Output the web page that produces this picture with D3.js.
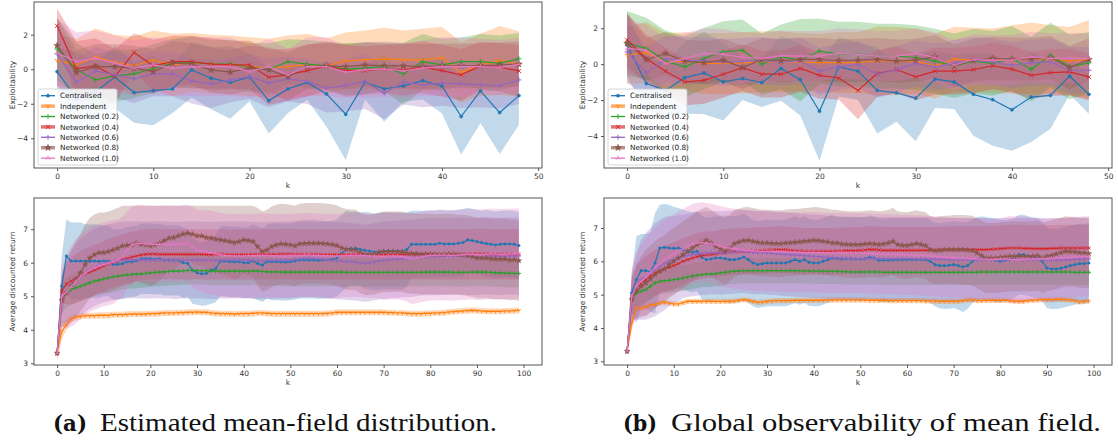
<!DOCTYPE html>
<html>
<head>
<meta charset="utf-8">
<script src="https://cdn.jsdelivr.net/npm/d3@7"></script>
<style>
  body { margin: 0; background: #fff; }
  svg { display: block; }
</style>
</head>
<body>
<svg id="chart" width="1118" height="443"></svg>
<script>
// series names / colours / markers
const seriesNames = ["Centralised", "Independent", "Networked (0.2)", "Networked (0.4)", "Networked (0.6)", "Networked (0.8)", "Networked (1.0)"];
const seriesColors = ["#1f77b4", "#ff7f0e", "#2ca02c", "#d62728", "#9467bd", "#8c564b", "#e377c2"];
const seriesMarkers = ["point", "tri_down", "plus", "x", "plus", "star", "tri_up"];
const legendThick = [false, true, false, true, false, true, false];

const kTop = d3.range(0, 50, 2);
const kBottom = d3.range(0, 100);

const topTicksX = [0, 10, 20, 30, 40, 50];
const topTicksY = [-4, -2, 0, 2];
const bottomTicksX = [0, 10, 20, 30, 40, 50, 60, 70, 80, 90, 100];
const bottomTicksY = [3, 4, 5, 6, 7];

// ---- (a) exploitability, mean & std per series (k = 0,2,...,48)
const expA_cent = [-0.14, -1.7, -1.3, -0.45, -1.35, -1.24, -1.14, -0.04, -0.52, -0.77, -0.46, -1.82, -1.14, -0.77, -1.43, -2.61, -0.75, -1.14, -0.97, -0.66, -0.97, -2.74, -1.26, -2.51, -1.53];
const expA_ind  = [0.5, 0.25, 0.7, 0.4, 0.2, 0.54, 0.25, 0.39, 0.3, 0.25, 0.15, 0.06, 0.15, 0.25, 0.19, 0.48, 0.54, 0.6, 0.54, 0.54, 0.66, -0.19, 0.25, 0.5, 0.3];
const expA_n02  = [1.16, 0.0, -0.62, -0.39, -0.27, 0.04, 0.35, 0.39, 0.3, 0.3, 0.1, 0.0, 0.44, 0.29, 0.19, 0.0, 0.06, 0.15, -0.27, 0.44, 0.25, 0.44, 0.44, 0.35, 0.6];
const expA_n04  = [2.51, 0.02, 0.19, -0.43, 0.97, 0.2, 0.44, 0.44, 0.29, 0.25, 0.25, -0.46, -0.33, -0.08, 0.19, -0.08, -0.08, 0.02, -0.04, 0.12, -0.08, -0.33, 0.19, 0.12, -0.1];
const expA_n06  = [0.9, -0.77, -0.1, -0.33, -0.56, -0.27, -0.27, -0.68, -0.85, -0.62, -0.43, -0.81, -0.56, -0.71, -1.1, -0.95, -0.71, -1.39, -0.75, -0.91, -0.81, -0.85, -0.91, -0.97, -0.62];
const expA_n08  = [1.37, -0.19, 0.15, 0.15, 0.06, -0.14, 0.35, 0.3, -0.04, -0.17, 0.06, -0.04, -0.43, 0.15, 0.19, 0.15, 0.25, 0.19, 0.19, 0.15, 0.19, 0.19, 0.19, 0.25, 0.29];
const expA_n10  = [0.93, 0.44, 0.64, 0.35, 0.06, 0.25, 0.06, 0.15, 0.15, 0.15, -0.14, 0.15, -0.33, 0.15, 0.15, -0.17, -0.04, 0.02, -0.1, 0.06, 0.15, 0.15, 0.15, 0.1, 0.29];

const expA_cent_sd = [1.4, 2.7, 1.7, 1.8, 1.75, 2.0, 1.4, 1.6, 1.8, 2.1, 1.4, 1.9, 1.4, 1.0, 1.9, 2.65, 1.0, 1.9, 0.9, 1.1, 1.6, 2.2, 1.85, 2.4, 1.7];
const expA_ind_sd  = [1.5, 1.5, 1.65, 1.6, 1.7, 1.7, 1.8, 1.7, 1.7, 1.7, 1.7, 1.7, 1.8, 1.8, 1.6, 1.65, 1.7, 1.8, 1.7, 1.8, 1.8, 1.75, 1.8, 2.0, 1.9];
const expA_n02_sd  = [1.8, 1.5, 1.5, 1.5, 1.4, 1.4, 1.4, 1.5, 1.4, 1.4, 1.4, 1.5, 1.3, 1.4, 1.4, 1.5, 1.5, 1.4, 1.8, 1.6, 1.5, 1.4, 1.6, 1.6, 1.5];
const expA_n04_sd  = [1.0, 1.6, 1.6, 1.6, 1.1, 1.5, 1.5, 1.5, 1.5, 1.4, 1.4, 1.6, 1.5, 1.5, 1.4, 1.5, 1.4, 1.4, 1.5, 1.5, 1.5, 1.5, 1.4, 1.4, 1.5];
const expA_n06_sd  = [1.8, 1.4, 1.4, 1.3, 1.4, 1.3, 1.3, 1.3, 1.4, 1.3, 1.3, 1.4, 1.3, 1.3, 1.4, 1.5, 1.6, 1.5, 1.3, 1.3, 1.3, 1.4, 1.3, 1.3, 1.4];
const expA_n08_sd  = [1.6, 1.3, 1.3, 1.3, 1.3, 1.3, 1.3, 1.2, 1.3, 1.3, 1.3, 1.3, 1.4, 1.3, 1.3, 1.3, 1.3, 1.3, 1.3, 1.3, 1.3, 1.3, 1.3, 1.3, 1.3];
const expA_n10_sd  = [2.0, 1.7, 1.6, 1.6, 1.6, 1.6, 1.6, 1.7, 1.7, 1.7, 1.5, 1.6, 1.5, 1.7, 1.7, 1.5, 1.6, 1.6, 1.6, 1.6, 1.7, 1.7, 1.6, 1.6, 1.5];

// ---- (b) exploitability
const expB_cent = [1.07, -1.08, -1.46, -0.75, -0.49, -0.99, -0.8, -1.03, -0.24, -0.86, -2.62, -0.15, -0.39, -1.46, -1.6, -1.89, -0.84, -0.99, -1.68, -1.98, -2.54, -1.83, -1.74, -0.67, -1.68];
const expB_ind  = [0.5, 0.65, 0.13, 0.17, 0.04, 0.04, 0.07, 0.13, 0.13, 0.13, 0.09, 0.09, 0.09, 0.19, 0.17, 0.17, -0.11, 0.28, 0.22, 0.19, 0.26, 0.32, 0.26, 0.17, 0.26];
const expB_n02  = [1.16, 0.88, 0.17, -0.15, 0.32, 0.69, 0.78, 0.0, 0.41, 0.22, 0.73, 0.56, 0.56, 0.45, 0.45, 0.37, 0.17, -0.09, 0.17, 0.04, 0.32, -0.28, 0.5, -0.15, 0.07];
const expB_n04  = [1.35, 0.32, -0.39, -0.99, -0.9, -0.56, -0.19, -0.56, -0.56, -0.24, -0.62, -0.77, -1.46, -0.52, -0.3, -0.71, -0.39, -0.39, -0.3, -0.09, -0.28, -0.62, -0.47, -0.43, -0.71];
const expB_n06  = [0.69, -0.49, 0.3, 0.2, 0.2, 0.1, 0.15, 0.2, 0.1, 0.2, -0.4, -0.15, -0.02, -0.56, -0.3, 0.04, -0.15, 0.04, 0.22, 0.13, -0.06, 0.07, 0.13, -0.34, -0.34];
const expB_n08  = [1.16, 0.26, 0.6, 0.17, 0.07, 0.22, -0.19, 0.26, 0.19, 0.26, 0.26, 0.19, 0.22, 0.26, 0.17, 0.22, 0.41, -0.09, 0.22, 0.32, 0.28, 0.28, 0.37, -0.19, 0.26];
const expB_n10  = [0.88, 0.79, 0.04, 0.32, 0.6, 0.56, 0.37, 0.32, 0.47, 0.45, 0.45, 0.6, 0.54, 0.45, 0.45, 0.6, 0.37, -0.06, 0.26, 0.22, 0.22, 0.41, 0.32, 0.32, 0.32];

const expB_cent_sd = [1.8, 1.5, 1.5, 2.0, 2.3, 2.15, 1.2, 1.35, 1.8, 2.0, 2.76, 1.65, 1.6, 2.4, 1.6, 2.4, 1.6, 1.5, 2.3, 2.56, 2.28, 2.5, 1.86, 1.0, 1.1];
const expB_ind_sd  = [1.6, 1.7, 1.6, 1.6, 1.7, 1.7, 1.7, 1.7, 1.7, 1.6, 1.6, 1.7, 1.7, 1.9, 1.9, 1.8, 1.8, 1.8, 1.8, 1.8, 1.9, 2.0, 1.9, 1.9, 2.2];
const expB_n02_sd  = [1.8, 1.7, 1.7, 1.7, 1.7, 1.7, 1.7, 1.7, 1.8, 2.3, 1.8, 1.8, 1.8, 1.8, 1.8, 1.8, 1.8, 1.8, 1.8, 1.8, 1.8, 1.8, 1.8, 1.8, 1.7];
const expB_n04_sd  = [1.5, 1.3, 1.3, 1.3, 1.3, 1.3, 1.3, 1.3, 1.3, 1.3, 1.3, 1.2, 1.6, 1.3, 1.3, 1.3, 1.3, 1.3, 1.3, 1.3, 1.3, 1.3, 1.3, 1.3, 1.3];
const expB_n06_sd  = [1.7, 1.4, 1.3, 1.3, 1.3, 1.3, 1.3, 1.3, 1.3, 1.3, 1.3, 1.3, 1.3, 1.3, 1.3, 1.3, 1.3, 1.3, 1.3, 1.3, 1.3, 1.3, 1.3, 1.3, 1.3];
const expB_n08_sd  = [1.6, 1.2, 1.2, 1.2, 1.2, 1.2, 1.2, 1.2, 1.2, 1.2, 1.2, 1.2, 1.2, 1.2, 1.2, 1.2, 1.2, 1.2, 1.2, 1.2, 1.2, 1.2, 1.2, 1.2, 1.2];
const expB_n10_sd  = [1.6, 1.4, 1.4, 1.4, 1.4, 1.4, 1.4, 1.4, 1.4, 1.4, 1.4, 1.4, 1.4, 1.4, 1.4, 1.4, 1.4, 1.4, 1.4, 1.4, 1.4, 1.4, 1.4, 1.4, 1.4];

// ---- (a) average discounted return (k = 0..99)
const retA_cent = [3.3, 5.3, 6.2, 6.05, 6.05, 6.05, 6.05, 6.04, 6.05, 6.04,
  6.05, 6.05, 5.95, 5.95, 5.97, 6.03, 6.03, 6.05, 6.12, 6.12,
  6.12, 6.1, 6.12, 6.07, 6.07, 6.07, 6.07, 6.0, 5.98, 5.78,
  5.7, 5.67, 5.68, 5.78, 5.82, 6.05, 6.05, 6.03, 6.03, 6.03,
  6.0, 6.0, 6.05, 5.98, 5.93, 6.03, 6.03, 6.03, 6.02, 6.02,
  6.03, 6.05, 6.08, 6.08, 6.08, 6.08, 6.07, 6.08, 6.08, 6.1,
  6.15, 6.28, 6.4, 6.42, 6.43, 6.4, 6.37, 6.35, 6.32, 6.33,
  6.35, 6.35, 6.35, 6.34, 6.33, 6.4, 6.55, 6.55, 6.55, 6.55,
  6.55, 6.55, 6.58, 6.56, 6.56, 6.56, 6.58, 6.6, 6.68, 6.66,
  6.63, 6.6, 6.57, 6.55, 6.53, 6.55, 6.56, 6.56, 6.55, 6.51];
const retA_ind = [3.3, 3.95, 4.15, 4.33, 4.38, 4.4, 4.42, 4.42, 4.42, 4.43,
  4.43, 4.43, 4.45, 4.45, 4.45, 4.46, 4.47, 4.47, 4.47, 4.47,
  4.48, 4.48, 4.49, 4.5, 4.5, 4.5, 4.51, 4.51, 4.52, 4.52,
  4.53, 4.52, 4.52, 4.5, 4.49, 4.48, 4.48, 4.48, 4.47, 4.48,
  4.48, 4.48, 4.49, 4.5, 4.5, 4.49, 4.48, 4.48, 4.48, 4.48,
  4.48, 4.48, 4.48, 4.48, 4.48, 4.48, 4.48, 4.48, 4.49, 4.5,
  4.52, 4.52, 4.52, 4.52, 4.52, 4.52, 4.52, 4.52, 4.52, 4.52,
  4.52, 4.51, 4.51, 4.5, 4.5, 4.49, 4.48, 4.48, 4.48, 4.49,
  4.49, 4.5, 4.5, 4.51, 4.53, 4.54, 4.55, 4.56, 4.57, 4.58,
  4.57, 4.56, 4.55, 4.55, 4.55, 4.55, 4.56, 4.56, 4.57, 4.58];
const retA_n02 = [3.3, 4.9, 5.1, 5.2, 5.25, 5.3, 5.35, 5.4, 5.45, 5.48,
  5.52, 5.55, 5.58, 5.6, 5.62, 5.64, 5.65, 5.66, 5.67, 5.68,
  5.7, 5.71, 5.72, 5.73, 5.74, 5.75, 5.75, 5.76, 5.77, 5.77,
  5.77, 5.76, 5.76, 5.75, 5.75, 5.75, 5.75, 5.75, 5.75, 5.75,
  5.75, 5.75, 5.76, 5.75, 5.74, 5.73, 5.73, 5.73, 5.72, 5.72,
  5.72, 5.72, 5.72, 5.72, 5.72, 5.72, 5.72, 5.72, 5.72, 5.72,
  5.72, 5.72, 5.71, 5.71, 5.71, 5.71, 5.71, 5.71, 5.71, 5.71,
  5.71, 5.71, 5.71, 5.71, 5.71, 5.71, 5.71, 5.71, 5.71, 5.72,
  5.72, 5.72, 5.72, 5.72, 5.72, 5.71, 5.71, 5.71, 5.71, 5.72,
  5.72, 5.72, 5.72, 5.71, 5.7, 5.7, 5.69, 5.68, 5.68, 5.68];
const retA_n04 = [3.3, 5.17, 5.37, 5.45, 5.53, 5.6, 5.66, 5.72, 5.78, 5.84,
  5.9, 5.96, 6.01, 6.05, 6.1, 6.13, 6.17, 6.2, 6.23, 6.25,
  6.26, 6.26, 6.25, 6.25, 6.25, 6.25, 6.25, 6.25, 6.25, 6.25,
  6.25, 6.25, 6.24, 6.24, 6.25, 6.25, 6.25, 6.24, 6.24, 6.24,
  6.24, 6.24, 6.25, 6.25, 6.25, 6.25, 6.25, 6.25, 6.26, 6.26,
  6.26, 6.25, 6.25, 6.25, 6.25, 6.25, 6.25, 6.24, 6.24, 6.24,
  6.24, 6.24, 6.24, 6.24, 6.25, 6.25, 6.25, 6.25, 6.24, 6.24,
  6.24, 6.24, 6.24, 6.25, 6.25, 6.25, 6.25, 6.25, 6.25, 6.25,
  6.25, 6.25, 6.24, 6.24, 6.24, 6.25, 6.25, 6.25, 6.25, 6.26,
  6.26, 6.26, 6.26, 6.25, 6.25, 6.25, 6.25, 6.25, 6.25, 6.25];
const retA_n06 = [3.3, 4.88, 5.12, 5.3, 5.45, 5.57, 5.68, 5.78, 5.85, 5.92,
  5.97, 6.0, 6.03, 6.06, 6.08, 6.08, 6.09, 6.09, 6.08, 6.08,
  6.08, 6.09, 6.09, 6.08, 6.08, 6.07, 6.07, 6.08, 6.08, 6.08,
  6.08, 6.08, 6.07, 6.07, 6.07, 6.08, 6.08, 6.08, 6.09, 6.09,
  6.08, 6.08, 6.07, 6.07, 6.06, 6.07, 6.07, 6.08, 6.08, 6.08,
  6.08, 6.1, 6.12, 6.13, 6.13, 6.13, 6.12, 6.1, 6.08, 6.07,
  6.06, 6.05, 6.04, 6.03, 6.02, 6.0, 5.98, 6.0, 6.03, 6.05,
  6.07, 6.08, 6.1, 6.1, 6.12, 6.12, 6.13, 6.15, 6.17, 6.18,
  6.18, 6.18, 6.19, 6.19, 6.19, 6.2, 6.2, 6.2, 6.19, 6.19,
  6.19, 6.2, 6.2, 6.2, 6.19, 6.19, 6.2, 6.2, 6.2, 6.2];
const retA_n08 = [3.3, 4.88, 5.1, 5.3, 5.5, 5.7, 5.94, 6.14, 6.24, 6.3,
  6.3, 6.33, 6.38, 6.43, 6.5, 6.52, 6.53, 6.58, 6.55, 6.53,
  6.5, 6.53, 6.58, 6.66, 6.73, 6.75, 6.8, 6.85, 6.88, 6.85,
  6.8, 6.8, 6.75, 6.73, 6.7, 6.68, 6.66, 6.63, 6.6, 6.63,
  6.68, 6.66, 6.63, 6.48, 6.33, 6.38, 6.48, 6.53, 6.56, 6.55,
  6.53, 6.5, 6.56, 6.57, 6.58, 6.58, 6.58, 6.57, 6.56, 6.54,
  6.51, 6.44, 6.4, 6.39, 6.38, 6.3, 6.24, 6.24, 6.25, 6.3,
  6.33, 6.33, 6.33, 6.33, 6.33, 6.29, 6.28, 6.27, 6.25, 6.26,
  6.26, 6.25, 6.25, 6.25, 6.26, 6.25, 6.24, 6.23, 6.21, 6.18,
  6.14, 6.14, 6.14, 6.12, 6.11, 6.11, 6.11, 6.08, 6.09, 6.06];
const retA_n10 = [3.3, 5.0, 5.12, 5.28, 5.44, 5.58, 5.68, 5.79, 5.85, 5.9,
  5.95, 5.98, 6.02, 6.08, 6.18, 6.38, 6.53, 6.57, 6.58, 6.56,
  6.55, 6.55, 6.55, 6.55, 6.55, 6.55, 6.55, 6.57, 6.58, 6.48,
  6.38, 6.35, 6.32, 6.3, 6.27, 6.24, 6.22, 6.21, 6.2, 6.2,
  6.2, 6.21, 6.21, 6.22, 6.22, 6.22, 6.21, 6.21, 6.2, 6.2,
  6.21, 6.22, 6.22, 6.23, 6.23, 6.22, 6.22, 6.21, 6.21, 6.2,
  6.2, 6.21, 6.22, 6.22, 6.23, 6.22, 6.21, 6.2, 6.2, 6.19,
  6.19, 6.2, 6.2, 6.2, 6.18, 6.14, 6.12, 6.14, 6.17, 6.2,
  6.22, 6.22, 6.23, 6.23, 6.22, 6.22, 6.23, 6.24, 6.25, 6.25,
  6.24, 6.24, 6.25, 6.26, 6.26, 6.25, 6.25, 6.26, 6.27, 6.27];

const retA_cent_sd = [0.05, 0.9, 1.1, 1.15, 1.15, 1.15, 1.1, 1.1, 1.1, 1.1,
  1.05, 1.05, 1.05, 1.05, 1.05, 1.05, 1.05, 1.05, 1.05, 1.05,
  1.05, 1.05, 1.05, 1.05, 1.05, 1.05, 1.05, 1.05, 1.0, 1.0,
  0.95, 0.95, 0.95, 1.0, 1.0, 1.05, 1.05, 1.05, 1.05, 1.05,
  1.05, 1.05, 1.1, 1.1, 1.1, 1.1, 1.15, 1.15, 1.15, 1.15,
  1.15, 1.15, 1.15, 1.15, 1.15, 1.15, 1.15, 1.15, 1.15, 1.15,
  1.15, 1.15, 1.15, 1.1, 1.1, 1.1, 1.15, 1.15, 1.15, 1.15,
  1.15, 1.15, 1.15, 1.15, 1.15, 1.1, 1.0, 1.0, 1.0, 1.0,
  1.0, 1.0, 1.0, 1.0, 1.0, 1.0, 1.0, 1.0, 0.95, 0.95,
  0.95, 0.95, 1.0, 1.0, 1.0, 1.0, 1.0, 1.0, 1.0, 1.0];
const retA_ind_sd = [0.25, 0.25, 0.15, 0.1, 0.1, 0.09, 0.09, 0.09, 0.09, 0.09,
  0.09, 0.09, 0.09, 0.09, 0.09, 0.09, 0.09, 0.09, 0.09, 0.09,
  0.09, 0.09, 0.09, 0.09, 0.09, 0.09, 0.09, 0.09, 0.09, 0.09,
  0.09, 0.09, 0.09, 0.09, 0.09, 0.09, 0.09, 0.09, 0.09, 0.09,
  0.09, 0.09, 0.09, 0.09, 0.09, 0.09, 0.09, 0.09, 0.09, 0.09,
  0.09, 0.09, 0.09, 0.09, 0.09, 0.09, 0.09, 0.09, 0.09, 0.09,
  0.09, 0.09, 0.09, 0.09, 0.09, 0.09, 0.09, 0.09, 0.09, 0.09,
  0.09, 0.09, 0.09, 0.09, 0.09, 0.09, 0.09, 0.09, 0.09, 0.09,
  0.09, 0.09, 0.09, 0.09, 0.09, 0.09, 0.09, 0.09, 0.09, 0.09,
  0.09, 0.09, 0.09, 0.09, 0.09, 0.09, 0.09, 0.09, 0.09, 0.09];
const retA_n02_sd = [0.05, 0.4, 0.45, 0.45, 0.45, 0.45, 0.45, 0.45, 0.45, 0.45,
  0.45, 0.45, 0.45, 0.45, 0.42, 0.42, 0.42, 0.42, 0.42, 0.42,
  0.42, 0.42, 0.42, 0.42, 0.42, 0.42, 0.42, 0.42, 0.42, 0.42,
  0.42, 0.42, 0.42, 0.42, 0.42, 0.42, 0.42, 0.42, 0.42, 0.42,
  0.42, 0.42, 0.42, 0.42, 0.42, 0.42, 0.42, 0.42, 0.42, 0.42,
  0.42, 0.42, 0.42, 0.42, 0.42, 0.42, 0.42, 0.42, 0.42, 0.42,
  0.42, 0.42, 0.42, 0.42, 0.42, 0.42, 0.42, 0.42, 0.42, 0.42,
  0.42, 0.42, 0.42, 0.42, 0.42, 0.42, 0.42, 0.42, 0.42, 0.42,
  0.42, 0.42, 0.42, 0.42, 0.42, 0.42, 0.42, 0.42, 0.42, 0.42,
  0.42, 0.42, 0.42, 0.42, 0.42, 0.42, 0.42, 0.42, 0.42, 0.42];
const retA_n04_sd = [0.05, 0.4, 0.6, 0.7, 0.72, 0.74, 0.75, 0.75, 0.75, 0.75,
  0.75, 0.75, 0.75, 0.75, 0.75, 0.75, 0.75, 0.75, 0.75, 0.75,
  0.75, 0.75, 0.75, 0.75, 0.75, 0.75, 0.75, 0.75, 0.75, 0.75,
  0.75, 0.75, 0.75, 0.75, 0.75, 0.75, 0.75, 0.75, 0.75, 0.75,
  0.75, 0.75, 0.75, 0.75, 0.75, 0.75, 0.75, 0.75, 0.75, 0.75,
  0.75, 0.75, 0.75, 0.75, 0.75, 0.75, 0.75, 0.75, 0.75, 0.75,
  0.75, 0.75, 0.75, 0.75, 0.75, 0.75, 0.75, 0.75, 0.75, 0.75,
  0.75, 0.75, 0.75, 0.75, 0.75, 0.75, 0.75, 0.75, 0.75, 0.75,
  0.75, 0.75, 0.75, 0.75, 0.75, 0.75, 0.75, 0.75, 0.75, 0.75,
  0.75, 0.75, 0.75, 0.75, 0.75, 0.75, 0.75, 0.75, 0.75, 0.75];
const retA_n06_sd = [0.05, 0.7, 0.9, 1.0, 1.1, 1.15, 1.15, 1.15, 1.15, 1.15,
  1.15, 1.15, 1.15, 1.15, 1.15, 1.15, 1.15, 1.15, 1.15, 1.15,
  1.15, 1.15, 1.15, 1.15, 1.15, 1.15, 1.15, 1.15, 1.15, 1.15,
  1.15, 1.15, 1.15, 1.15, 1.15, 1.15, 1.15, 1.15, 1.15, 1.15,
  1.15, 1.15, 1.15, 1.15, 1.15, 1.15, 1.15, 1.15, 1.15, 1.15,
  1.15, 1.15, 1.15, 1.15, 1.15, 1.15, 1.15, 1.15, 1.15, 1.15,
  1.15, 1.15, 1.15, 1.15, 1.15, 1.15, 1.15, 1.15, 1.15, 1.15,
  1.15, 1.15, 1.15, 1.15, 1.15, 1.15, 1.15, 1.15, 1.15, 1.15,
  1.15, 1.15, 1.15, 1.15, 1.15, 1.15, 1.15, 1.15, 1.15, 1.15,
  1.15, 1.15, 1.15, 1.15, 1.15, 1.15, 1.15, 1.15, 1.15, 1.15];
const retA_n08_sd = [0.05, 0.8, 1.0, 1.1, 1.15, 1.15, 1.2, 1.2, 1.2, 1.2,
  1.2, 1.2, 1.2, 1.2, 1.2, 1.18, 1.17, 1.12, 1.15, 1.17,
  1.2, 1.17, 1.12, 1.05, 0.98, 0.95, 0.9, 0.85, 0.82, 0.85,
  0.9, 0.9, 0.95, 0.97, 1.0, 1.02, 1.04, 1.07, 1.1, 1.07,
  1.02, 1.04, 1.07, 1.15, 1.2, 1.2, 1.2, 1.2, 1.2, 1.2,
  1.2, 1.2, 1.2, 1.2, 1.2, 1.2, 1.2, 1.2, 1.2, 1.2,
  1.2, 1.2, 1.2, 1.2, 1.2, 1.2, 1.2, 1.2, 1.2, 1.2,
  1.2, 1.2, 1.2, 1.2, 1.2, 1.2, 1.2, 1.2, 1.2, 1.2,
  1.2, 1.2, 1.2, 1.2, 1.2, 1.2, 1.2, 1.2, 1.2, 1.2,
  1.2, 1.2, 1.2, 1.2, 1.2, 1.2, 1.2, 1.2, 1.2, 1.2];
const retA_n10_sd = [0.05, 0.9, 1.1, 1.2, 1.25, 1.25, 1.25, 1.25, 1.25, 1.25,
  1.25, 1.25, 1.25, 1.2, 1.2, 1.15, 1.15, 1.15, 1.15, 1.15,
  1.15, 1.15, 1.15, 1.15, 1.15, 1.15, 1.15, 1.15, 1.15, 1.2,
  1.2, 1.2, 1.25, 1.25, 1.25, 1.25, 1.25, 1.25, 1.25, 1.25,
  1.25, 1.25, 1.25, 1.25, 1.25, 1.25, 1.25, 1.25, 1.25, 1.25,
  1.25, 1.25, 1.25, 1.25, 1.25, 1.25, 1.25, 1.25, 1.25, 1.25,
  1.25, 1.25, 1.25, 1.25, 1.25, 1.25, 1.25, 1.25, 1.25, 1.25,
  1.3, 1.3, 1.3, 1.3, 1.3, 1.3, 1.35, 1.35, 1.35, 1.35,
  1.35, 1.35, 1.35, 1.35, 1.35, 1.35, 1.35, 1.35, 1.35, 1.35,
  1.35, 1.35, 1.35, 1.35, 1.35, 1.35, 1.35, 1.35, 1.35, 1.35];

// ---- (b) average discounted return
const retB_cent = [3.3, 5.05, 5.45, 5.72, 5.72, 5.68, 5.95, 6.4, 6.42, 6.4,
  6.39, 6.4, 6.35, 6.3, 6.27, 6.3, 6.12, 6.05, 6.07, 6.1,
  6.1, 6.08, 6.05, 6.05, 6.08, 6.13, 6.05, 5.95, 5.9, 5.93,
  5.95, 5.95, 5.95, 5.95, 5.95, 6.0, 6.05, 6.0, 6.05, 5.97,
  5.95, 5.95, 6.0, 6.05, 6.1, 6.08, 6.07, 6.08, 6.08, 6.07,
  6.07, 6.08, 6.12, 6.1, 6.03, 6.03, 6.03, 6.04, 6.05, 6.05,
  6.05, 6.05, 6.05, 6.05, 6.05, 6.0, 5.9, 5.87, 5.87, 5.88,
  5.9, 5.87, 5.83, 5.87, 6.0, 6.07, 6.1, 6.07, 6.05, 6.03,
  6.0, 6.03, 6.05, 6.1, 6.2, 6.2, 6.15, 6.12, 6.1, 6.0,
  5.8, 5.77, 5.77, 5.79, 5.83, 5.87, 5.9, 5.93, 5.93, 5.95];
const retB_ind = [3.3, 4.14, 4.6, 4.6, 4.62, 4.7, 4.7, 4.75, 4.77, 4.75,
  4.72, 4.72, 4.76, 4.8, 4.8, 4.8, 4.8, 4.8, 4.8, 4.8,
  4.8, 4.8, 4.8, 4.81, 4.83, 4.85, 4.83, 4.8, 4.77, 4.78,
  4.8, 4.81, 4.82, 4.82, 4.82, 4.82, 4.83, 4.83, 4.83, 4.83,
  4.83, 4.83, 4.83, 4.84, 4.84, 4.84, 4.84, 4.84, 4.84, 4.84,
  4.84, 4.84, 4.83, 4.83, 4.83, 4.83, 4.82, 4.82, 4.82, 4.82,
  4.82, 4.82, 4.82, 4.82, 4.81, 4.81, 4.81, 4.8, 4.8, 4.8,
  4.8, 4.8, 4.82, 4.84, 4.84, 4.82, 4.82, 4.83, 4.83, 4.83,
  4.83, 4.83, 4.82, 4.8, 4.8, 4.8, 4.82, 4.83, 4.84, 4.85,
  4.85, 4.85, 4.86, 4.86, 4.85, 4.84, 4.82, 4.78, 4.8, 4.81];
const retB_n02 = [3.3, 4.85, 5.05, 5.1, 5.15, 5.25, 5.35, 5.4, 5.42, 5.43,
  5.45, 5.47, 5.5, 5.53, 5.56, 5.58, 5.6, 5.61, 5.62, 5.63,
  5.65, 5.67, 5.69, 5.7, 5.71, 5.72, 5.72, 5.72, 5.72, 5.72,
  5.72, 5.72, 5.72, 5.72, 5.72, 5.72, 5.72, 5.72, 5.71, 5.71,
  5.71, 5.71, 5.7, 5.7, 5.7, 5.7, 5.69, 5.69, 5.68, 5.68,
  5.68, 5.68, 5.68, 5.68, 5.68, 5.67, 5.67, 5.67, 5.67, 5.67,
  5.67, 5.67, 5.67, 5.67, 5.67, 5.67, 5.67, 5.67, 5.67, 5.67,
  5.67, 5.67, 5.67, 5.67, 5.67, 5.67, 5.68, 5.68, 5.68, 5.68,
  5.68, 5.68, 5.68, 5.68, 5.68, 5.68, 5.68, 5.68, 5.68, 5.68,
  5.68, 5.68, 5.68, 5.68, 5.68, 5.68, 5.67, 5.67, 5.67, 5.67];
const retB_n04 = [3.3, 4.95, 5.2, 5.33, 5.45, 5.55, 5.65, 5.71, 5.77, 5.82,
  5.87, 5.93, 6.0, 6.05, 6.1, 6.14, 6.17, 6.19, 6.2, 6.22,
  6.25, 6.26, 6.28, 6.29, 6.29, 6.3, 6.3, 6.31, 6.32, 6.32,
  6.33, 6.34, 6.35, 6.35, 6.35, 6.33, 6.32, 6.31, 6.3, 6.3,
  6.3, 6.3, 6.3, 6.3, 6.3, 6.31, 6.31, 6.32, 6.32, 6.32,
  6.33, 6.34, 6.36, 6.35, 6.34, 6.33, 6.33, 6.33, 6.33, 6.33,
  6.33, 6.33, 6.33, 6.33, 6.33, 6.33, 6.33, 6.34, 6.34, 6.35,
  6.35, 6.35, 6.35, 6.35, 6.35, 6.35, 6.35, 6.35, 6.36, 6.37,
  6.38, 6.39, 6.4, 6.4, 6.4, 6.39, 6.39, 6.38, 6.38, 6.38,
  6.38, 6.39, 6.39, 6.4, 6.4, 6.4, 6.4, 6.4, 6.4, 6.4];
const retB_n06 = [3.3, 4.9, 5.25, 5.45, 5.55, 5.65, 5.75, 5.85, 5.93, 6.0,
  6.05, 6.1, 6.15, 6.18, 6.2, 6.22, 6.24, 6.25, 6.26, 6.26,
  6.25, 6.26, 6.27, 6.28, 6.3, 6.3, 6.28, 6.27, 6.26, 6.26,
  6.25, 6.24, 6.23, 6.22, 6.21, 6.2, 6.19, 6.18, 6.17, 6.16,
  6.15, 6.14, 6.13, 6.12, 6.11, 6.1, 6.1, 6.09, 6.09, 6.08,
  6.08, 6.08, 6.08, 6.08, 6.08, 6.08, 6.08, 6.08, 6.08, 6.08,
  6.08, 6.08, 6.07, 6.07, 6.07, 6.07, 6.06, 6.06, 6.06, 6.05,
  6.05, 6.05, 6.05, 6.05, 6.05, 6.05, 6.05, 6.05, 6.05, 6.05,
  6.05, 6.05, 6.05, 6.05, 6.05, 6.05, 6.05, 6.05, 6.05, 6.05,
  6.04, 6.04, 6.04, 6.05, 6.05, 6.05, 6.06, 6.06, 6.07, 6.07];
const retB_n08 = [3.3, 4.85, 5.1, 5.25, 5.35, 5.47, 5.6, 5.7, 5.77, 5.9,
  6.0, 6.1, 6.2, 6.3, 6.4, 6.5, 6.57, 6.63, 6.55, 6.45,
  6.37, 6.3, 6.4, 6.53, 6.58, 6.62, 6.63, 6.6, 6.57, 6.55,
  6.55, 6.54, 6.53, 6.53, 6.55, 6.56, 6.57, 6.58, 6.6, 6.61,
  6.63, 6.62, 6.6, 6.58, 6.55, 6.55, 6.52, 6.51, 6.5, 6.5,
  6.5, 6.52, 6.53, 6.52, 6.5, 6.52, 6.55, 6.6, 6.5, 6.48,
  6.47, 6.5, 6.53, 6.5, 6.47, 6.35, 6.32, 6.33, 6.35, 6.35,
  6.35, 6.35, 6.35, 6.34, 6.32, 6.25, 6.17, 6.1, 6.1, 6.1,
  6.12, 6.13, 6.15, 6.15, 6.15, 6.15, 6.15, 6.15, 6.17, 6.1,
  6.15, 6.18, 6.22, 6.26, 6.3, 6.29, 6.28, 6.26, 6.25, 6.23];
const retB_n10 = [3.3, 4.96, 5.25, 5.4, 5.53, 5.67, 5.8, 5.93, 6.05, 6.15,
  6.22, 6.3, 6.37, 6.45, 6.52, 6.55, 6.57, 6.55, 6.53, 6.5,
  6.45, 6.42, 6.4, 6.38, 6.36, 6.34, 6.33, 6.32, 6.31, 6.3,
  6.3, 6.3, 6.29, 6.29, 6.28, 6.28, 6.28, 6.27, 6.27, 6.27,
  6.27, 6.27, 6.26, 6.26, 6.26, 6.26, 6.26, 6.25, 6.25, 6.25,
  6.25, 6.24, 6.24, 6.23, 6.23, 6.22, 6.22, 6.21, 6.21, 6.2,
  6.2, 6.19, 6.18, 6.18, 6.17, 6.16, 6.15, 6.14, 6.13, 6.12,
  6.11, 6.1, 6.1, 6.09, 6.08, 6.08, 6.07, 6.06, 6.05, 6.06,
  6.07, 6.07, 6.06, 6.05, 6.05, 6.06, 6.07, 6.07, 6.08, 6.08,
  6.08, 6.09, 6.1, 6.1, 6.11, 6.12, 6.13, 6.14, 6.15, 6.15];

const retB_cent_sd = [0.1, 0.6, 1.3, 1.1, 1.1, 1.2, 1.5, 1.3, 1.3, 1.3,
  1.25, 1.2, 1.2, 1.2, 1.2, 1.2, 1.25, 1.25, 1.25, 1.25,
  1.25, 1.3, 1.3, 1.3, 1.3, 1.3, 1.3, 1.3, 1.3, 1.3,
  1.3, 1.3, 1.3, 1.3, 1.3, 1.3, 1.3, 1.3, 1.3, 1.3,
  1.3, 1.3, 1.3, 1.3, 1.3, 1.25, 1.25, 1.25, 1.25, 1.25,
  1.25, 1.25, 1.25, 1.25, 1.25, 1.25, 1.25, 1.25, 1.25, 1.25,
  1.25, 1.25, 1.25, 1.25, 1.25, 1.25, 1.25, 1.28, 1.3, 1.3,
  1.3, 1.32, 1.35, 1.3, 1.25, 1.25, 1.25, 1.25, 1.25, 1.25,
  1.25, 1.2, 1.2, 1.2, 1.2, 1.2, 1.2, 1.2, 1.2, 1.2,
  1.2, 1.2, 1.2, 1.2, 1.2, 1.2, 1.2, 1.2, 1.2, 1.2];
const retB_ind_sd = [0.1, 0.2, 0.12, 0.09, 0.08, 0.08, 0.08, 0.08, 0.08, 0.08,
  0.08, 0.08, 0.08, 0.08, 0.08, 0.08, 0.08, 0.08, 0.08, 0.08,
  0.08, 0.08, 0.08, 0.08, 0.08, 0.08, 0.08, 0.08, 0.08, 0.08,
  0.08, 0.08, 0.08, 0.08, 0.08, 0.08, 0.08, 0.08, 0.08, 0.08,
  0.08, 0.08, 0.08, 0.08, 0.08, 0.08, 0.08, 0.08, 0.08, 0.08,
  0.08, 0.08, 0.08, 0.08, 0.08, 0.08, 0.08, 0.08, 0.08, 0.08,
  0.08, 0.08, 0.08, 0.08, 0.08, 0.08, 0.08, 0.08, 0.08, 0.08,
  0.08, 0.08, 0.08, 0.08, 0.08, 0.08, 0.08, 0.08, 0.08, 0.08,
  0.08, 0.08, 0.08, 0.08, 0.08, 0.08, 0.08, 0.08, 0.08, 0.08,
  0.08, 0.08, 0.08, 0.08, 0.08, 0.08, 0.08, 0.08, 0.08, 0.08];
const retB_n02_sd = [0.05, 0.35, 0.38, 0.38, 0.38, 0.38, 0.38, 0.38, 0.38, 0.38,
  0.38, 0.38, 0.38, 0.38, 0.38, 0.38, 0.38, 0.38, 0.38, 0.38,
  0.38, 0.38, 0.38, 0.38, 0.38, 0.38, 0.38, 0.38, 0.38, 0.38,
  0.38, 0.38, 0.38, 0.38, 0.38, 0.38, 0.38, 0.38, 0.38, 0.38,
  0.38, 0.38, 0.38, 0.38, 0.38, 0.38, 0.38, 0.38, 0.38, 0.38,
  0.38, 0.38, 0.38, 0.38, 0.38, 0.38, 0.38, 0.38, 0.38, 0.38,
  0.38, 0.38, 0.38, 0.38, 0.38, 0.38, 0.38, 0.38, 0.38, 0.38,
  0.38, 0.38, 0.38, 0.38, 0.38, 0.38, 0.38, 0.38, 0.38, 0.38,
  0.38, 0.38, 0.38, 0.38, 0.38, 0.38, 0.38, 0.38, 0.38, 0.38,
  0.38, 0.38, 0.38, 0.38, 0.38, 0.38, 0.38, 0.38, 0.38, 0.38];
const retB_n04_sd = [0.05, 0.6, 0.7, 0.7, 0.7, 0.7, 0.7, 0.7, 0.7, 0.7,
  0.7, 0.7, 0.7, 0.7, 0.7, 0.7, 0.7, 0.7, 0.7, 0.7,
  0.7, 0.7, 0.7, 0.7, 0.7, 0.7, 0.7, 0.7, 0.7, 0.7,
  0.7, 0.7, 0.7, 0.7, 0.7, 0.7, 0.7, 0.7, 0.7, 0.7,
  0.7, 0.7, 0.7, 0.7, 0.7, 0.7, 0.7, 0.7, 0.7, 0.7,
  0.7, 0.7, 0.7, 0.7, 0.7, 0.7, 0.7, 0.7, 0.7, 0.7,
  0.7, 0.7, 0.7, 0.7, 0.7, 0.7, 0.7, 0.7, 0.7, 0.7,
  0.7, 0.7, 0.7, 0.7, 0.7, 0.7, 0.7, 0.7, 0.7, 0.7,
  0.7, 0.7, 0.7, 0.7, 0.7, 0.7, 0.7, 0.7, 0.7, 0.7,
  0.7, 0.7, 0.7, 0.7, 0.7, 0.7, 0.7, 0.7, 0.7, 0.7];
const retB_n06_sd = [0.05, 0.7, 1.0, 1.2, 1.3, 1.35, 1.4, 1.4, 1.4, 1.35,
  1.3, 1.3, 1.25, 1.25, 1.25, 1.25, 1.25, 1.25, 1.25, 1.25,
  1.25, 1.25, 1.25, 1.25, 1.25, 1.25, 1.25, 1.25, 1.25, 1.25,
  1.25, 1.25, 1.25, 1.25, 1.25, 1.25, 1.25, 1.25, 1.25, 1.25,
  1.25, 1.25, 1.25, 1.25, 1.25, 1.25, 1.25, 1.25, 1.25, 1.25,
  1.25, 1.25, 1.25, 1.25, 1.25, 1.25, 1.25, 1.25, 1.25, 1.25,
  1.25, 1.25, 1.25, 1.25, 1.25, 1.25, 1.25, 1.25, 1.25, 1.25,
  1.25, 1.25, 1.25, 1.25, 1.25, 1.25, 1.25, 1.25, 1.25, 1.25,
  1.25, 1.25, 1.25, 1.25, 1.25, 1.25, 1.25, 1.25, 1.25, 1.25,
  1.25, 1.25, 1.25, 1.25, 1.25, 1.25, 1.25, 1.25, 1.25, 1.25];
const retB_n08_sd = [0.05, 0.6, 0.8, 0.9, 1.0, 1.0, 1.0, 1.0, 1.0, 1.0,
  1.0, 1.0, 1.0, 1.0, 1.0, 1.0, 1.0, 1.0, 1.0, 1.0,
  1.0, 1.0, 1.0, 1.0, 1.0, 1.0, 1.0, 1.0, 1.0, 1.0,
  1.0, 1.0, 1.0, 1.0, 1.0, 1.0, 1.0, 1.0, 1.0, 1.0,
  1.0, 1.0, 1.0, 1.0, 1.0, 1.0, 1.0, 1.0, 1.0, 1.0,
  1.0, 1.0, 1.0, 1.0, 1.0, 1.0, 1.0, 1.0, 1.0, 1.0,
  1.0, 1.0, 1.0, 1.0, 1.0, 1.0, 1.0, 1.02, 1.02, 1.02,
  1.04, 1.04, 1.04, 1.04, 1.05, 1.05, 1.05, 1.05, 1.05, 1.05,
  1.05, 1.05, 1.05, 1.05, 1.05, 1.05, 1.05, 1.05, 1.05, 1.05,
  1.05, 1.05, 1.05, 1.05, 1.05, 1.05, 1.05, 1.05, 1.05, 1.05];
const retB_n10_sd = [0.05, 0.8, 1.0, 1.1, 1.15, 1.2, 1.2, 1.2, 1.2, 1.2,
  1.2, 1.2, 1.2, 1.2, 1.2, 1.2, 1.2, 1.2, 1.2, 1.2,
  1.2, 1.2, 1.2, 1.2, 1.2, 1.2, 1.2, 1.2, 1.2, 1.2,
  1.2, 1.2, 1.2, 1.2, 1.2, 1.2, 1.2, 1.2, 1.2, 1.2,
  1.2, 1.2, 1.2, 1.2, 1.2, 1.2, 1.2, 1.2, 1.2, 1.2,
  1.2, 1.2, 1.2, 1.2, 1.2, 1.2, 1.2, 1.2, 1.2, 1.2,
  1.2, 1.2, 1.2, 1.2, 1.2, 1.2, 1.2, 1.2, 1.2, 1.2,
  1.2, 1.2, 1.2, 1.2, 1.2, 1.2, 1.2, 1.2, 1.2, 1.2,
  1.2, 1.25, 1.3, 1.3, 1.3, 1.3, 1.25, 1.2, 1.2, 1.2,
  1.2, 1.2, 1.2, 1.2, 1.2, 1.2, 1.2, 1.2, 1.2, 1.2];

// ---------------------------------------------------------------
const svg = d3.select("#chart");
const fontSans = "'DejaVu Sans', sans-serif";

const panels = [
  { left: 34, right: 542, top: 2, bottom: 168, k: kTop, xDomain: [-2.4, 50.4], yDomain: [-5.72, 3.89],
    xTicks: topTicksX, yTicks: topTicksY, ylabel: "Exploitability", legend: true,
    means: [expA_cent, expA_ind, expA_n02, expA_n04, expA_n06, expA_n08, expA_n10],
    sds: [expA_cent_sd, expA_ind_sd, expA_n02_sd, expA_n04_sd, expA_n06_sd, expA_n08_sd, expA_n10_sd] },
  { left: 604, right: 1112, top: 2, bottom: 168, k: kTop, xDomain: [-2.4, 50.4], yDomain: [-5.78, 3.46],
    xTicks: topTicksX, yTicks: topTicksY, ylabel: "Exploitability", legend: true,
    means: [expB_cent, expB_ind, expB_n02, expB_n04, expB_n06, expB_n08, expB_n10],
    sds: [expB_cent_sd, expB_ind_sd, expB_n02_sd, expB_n04_sd, expB_n06_sd, expB_n08_sd, expB_n10_sd] },
  { left: 34, right: 542, top: 198, bottom: 365, k: kBottom, xDomain: [-4.95, 103.95], yDomain: [2.95, 7.93],
    xTicks: bottomTicksX, yTicks: bottomTicksY, ylabel: "Average discounted return", legend: false,
    means: [retA_cent, retA_ind, retA_n02, retA_n04, retA_n06, retA_n08, retA_n10],
    sds: [retA_cent_sd, retA_ind_sd, retA_n02_sd, retA_n04_sd, retA_n06_sd, retA_n08_sd, retA_n10_sd] },
  { left: 604, right: 1112, top: 198, bottom: 365, k: kBottom, xDomain: [-4.95, 103.95], yDomain: [2.89, 7.9],
    xTicks: bottomTicksX, yTicks: bottomTicksY, ylabel: "Average discounted return", legend: false,
    means: [retB_cent, retB_ind, retB_n02, retB_n04, retB_n06, retB_n08, retB_n10],
    sds: [retB_cent_sd, retB_ind_sd, retB_n02_sd, retB_n04_sd, retB_n06_sd, retB_n08_sd, retB_n10_sd] }
];

function markerPath(type, s) {
  const a = s * 0.87, b = s * 0.5;
  switch (type) {
    case "plus": return `M${-s},0H${s}M0,${-s}V${s}`;
    case "x": return `M${-s*0.8},${-s*0.8}L${s*0.8},${s*0.8}M${-s*0.8},${s*0.8}L${s*0.8},${-s*0.8}`;
    case "tri_down": return `M0,0V${s}M0,0L${-a},${-b}M0,0L${a},${-b}`;
    case "tri_up": return `M0,0V${-s}M0,0L${-a},${b}M0,0L${a},${b}`;
    case "star": return d3.symbol(d3.symbolStar, s * s * 2.2)();
    default: return d3.symbol(d3.symbolCircle, s * s * 1.2)();
  }
}

function drawMarker(g, type, color, x, y, s) {
  const filled = type === "point" || type === "star";
  g.append("path")
    .attr("d", markerPath(type, s))
    .attr("transform", `translate(${x},${y})`)
    .attr("fill", filled ? color : "none")
    .attr("stroke", color)
    .attr("stroke-width", filled ? 0.4 : 0.9);
}

panels.forEach((p, pi) => {
  const x = d3.scaleLinear().domain(p.xDomain).range([p.left, p.right]);
  const y = d3.scaleLinear().domain(p.yDomain).range([p.bottom, p.top]);
  const g = svg.append("g");

  const clipId = "clip" + pi;
  g.append("clipPath").attr("id", clipId)
    .append("rect").attr("x", p.left).attr("y", p.top)
    .attr("width", p.right - p.left).attr("height", p.bottom - p.top);

  const plot = g.append("g").attr("clip-path", `url(#${clipId})`);

  // bands
  p.means.forEach((m, si) => {
    const rows = p.k.map((k, i) => ({ k: k, lo: m[i] - p.sds[si][i], hi: m[i] + p.sds[si][i] }));
    plot.append("path")
      .datum(rows)
      .attr("d", d3.area().x(d => x(d.k)).y0(d => y(d.lo)).y1(d => y(d.hi)))
      .attr("fill", seriesColors[si])
      .attr("fill-opacity", 0.28)
      .attr("stroke", "none");
  });

  // lines + markers
  const msize = p.k.length > 50 ? 2.1 : 2.6;
  p.means.forEach((m, si) => {
    const rows = p.k.map((k, i) => ({ k: k, v: m[i] }));
    plot.append("path")
      .datum(rows)
      .attr("d", d3.line().x(d => x(d.k)).y(d => y(d.v)))
      .attr("fill", "none")
      .attr("stroke", seriesColors[si])
      .attr("stroke-width", 1.2);
    const mg = plot.append("g");
    rows.forEach(r => drawMarker(mg, seriesMarkers[si], seriesColors[si], x(r.k), y(r.v), msize));
  });

  // axes frame
  g.append("rect")
    .attr("x", p.left).attr("y", p.top)
    .attr("width", p.right - p.left).attr("height", p.bottom - p.top)
    .attr("fill", "none").attr("stroke", "#555").attr("stroke-width", 1);

  const xAxis = g.append("g")
    .attr("transform", `translate(0,${p.bottom})`)
    .call(d3.axisBottom(x).tickValues(p.xTicks).tickSize(3).tickPadding(3).tickFormat(d3.format("d")));
  const yAxis = g.append("g")
    .attr("transform", `translate(${p.left},0)`)
    .call(d3.axisLeft(y).tickValues(p.yTicks).tickSize(3).tickPadding(3)
      .tickFormat(d => d < 0 ? "\u2212" + Math.abs(d) : d));
  [xAxis, yAxis].forEach(ax => {
    ax.select(".domain").remove();
    ax.selectAll("line").attr("stroke", "#555");
    ax.selectAll("text").attr("font-family", fontSans).attr("font-size", 7.5).attr("fill", "#333");
  });

  // axis labels
  g.append("text")
    .attr("x", (p.left + p.right) / 2).attr("y", p.bottom + 20)
    .attr("text-anchor", "middle")
    .attr("font-family", fontSans).attr("font-size", 7.5).attr("fill", "#333")
    .text("k");
  g.append("text")
    .attr("transform", `translate(${p.left - 19},${(p.top + p.bottom) / 2}) rotate(-90)`)
    .attr("text-anchor", "middle")
    .attr("font-family", fontSans).attr("font-size", 7.5).attr("fill", "#333")
    .text(p.ylabel);

  // legend
  if (p.legend) {
    const lx = p.left + 4, ly = p.bottom - 79;
    const lg = g.append("g");
    lg.append("rect")
      .attr("x", lx).attr("y", ly).attr("width", 79).attr("height", 76)
      .attr("rx", 2).attr("fill", "#fff").attr("fill-opacity", 0.85)
      .attr("stroke", "#ccc").attr("stroke-width", 0.8);
    seriesNames.forEach((name, si) => {
      const ry = ly + 6.7 + si * 10.4;
      lg.append("line")
        .attr("x1", lx + 3).attr("x2", lx + 17).attr("y1", ry).attr("y2", ry)
        .attr("stroke", seriesColors[si])
        .attr("stroke-width", legendThick[si] ? 3.5 : 1.3)
        .attr("stroke-opacity", legendThick[si] ? 0.65 : 1);
      drawMarker(lg, seriesMarkers[si], seriesColors[si], lx + 10, ry, 2.6);
      lg.append("text")
        .attr("x", lx + 22).attr("y", ry + 2.7)
        .attr("font-family", fontSans).attr("font-size", 7.3).attr("fill", "#222")
        .text(name);
    });
  }
});

// captions
const captions = [
  { label: "(a)", text: "Estimated mean-field distribution.", x0: 53, x1: 100, x2: 497 },
  { label: "(b)", text: "Global observability of mean field.", x0: 623, x1: 671, x2: 1101 }
];
captions.forEach(c => {
  svg.append("text")
    .attr("x", c.x0).attr("y", 431)
    .attr("font-family", "'DejaVu Serif', serif").attr("font-weight", "bold").attr("font-size", 23)
    .attr("fill", "#111")
    .attr("textLength", 34).attr("lengthAdjust", "spacingAndGlyphs")
    .text(c.label);
  svg.append("text")
    .attr("x", c.x1).attr("y", 431)
    .attr("font-family", "'Liberation Serif', serif").attr("font-size", 25)
    .attr("fill", "#111")
    .attr("textLength", c.x2 - c.x1).attr("lengthAdjust", "spacingAndGlyphs")
    .text(c.text);
});
</script>
</body>
</html>
